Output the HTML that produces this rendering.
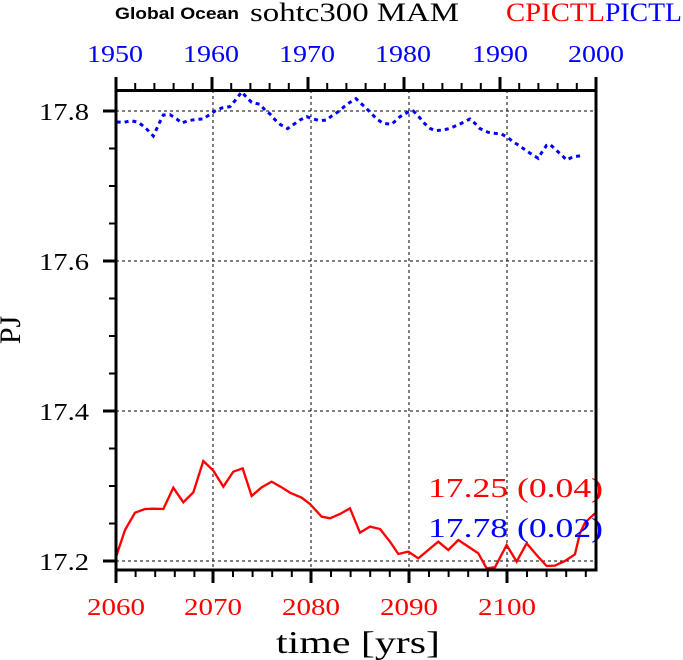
<!DOCTYPE html>
<html><head><meta charset="utf-8"><style>
html,body{margin:0;padding:0;background:#fff;}
svg{display:block;}
text{font-family:"Liberation Serif",serif;}
</style></head><body>
<svg width="683" height="660" viewBox="0 0 683 660" xmlns="http://www.w3.org/2000/svg">
<rect width="683" height="660" fill="#fff"/>
<text x="115" y="19" font-weight="bold" font-size="17" textLength="124" lengthAdjust="spacingAndGlyphs" style="font-family:'Liberation Sans',sans-serif">Global Ocean</text>
<text x="250" y="21" font-size="26" textLength="209" lengthAdjust="spacingAndGlyphs">sohtc300 MAM</text>
<text x="506" y="21" font-size="26" fill="#f00" textLength="99" lengthAdjust="spacingAndGlyphs">CPICTL</text>
<text x="605" y="21" font-size="26" fill="#00f" textLength="77" lengthAdjust="spacingAndGlyphs">PICTL</text>
<g stroke="#000" stroke-width="1" stroke-dasharray="3,3">
<line x1="213" y1="90" x2="213" y2="570"/><line x1="311" y1="90" x2="311" y2="570"/>
<line x1="409" y1="90" x2="409" y2="570"/><line x1="507" y1="90" x2="507" y2="570"/>
<line x1="116" y1="111" x2="596" y2="111"/><line x1="116" y1="261" x2="596" y2="261"/>
<line x1="116" y1="411" x2="596" y2="411"/><line x1="116" y1="561" x2="596" y2="561"/>
</g>
<g transform="translate(100,80) scale(0.3333)">
<polyline fill="none" stroke="#00f" stroke-width="9" stroke-dasharray="12,12" points="50,126 72,127 93,122 115,127 135,142 160,168 180,125 190,105 210,104 230,117 245,129 265,122 290,118 310,117 330,103 345,93 365,84 390,80 405,62 425,36 440,52 455,67 480,73 495,90 510,102 525,119 540,133 563,146 580,134 600,120 620,110 640,117 660,122 680,120 695,108 715,95 735,78 750,67 768,56 785,72 800,86 815,101 830,117 850,130 875,133 900,110 925,96 940,93 955,108 970,127 990,145 1005,152 1030,150 1050,145 1080,132 1110,117 1125,130 1140,146 1165,157 1185,160 1205,162 1225,174 1240,186 1260,198 1280,213 1300,226 1315,235 1325,218 1340,196 1350,193 1365,207 1385,225 1400,240 1420,230 1445,227"/>
</g>
<g transform="translate(100,450) scale(0.3333)">
<polyline fill="none" stroke="#f00" stroke-width="7" points="50,315 75,240 105,188 135,177 160,176 190,177 220,113 250,157 280,127 310,33 340,62 370,110 400,65 428,55 455,138 485,112 515,95 545,112 570,128 605,143 630,162 665,200 690,205 720,192 750,175 780,248 810,230 840,237 870,275 895,312 925,305 955,325 985,300 1015,275 1045,300 1075,270 1105,290 1135,310 1160,355 1185,352 1220,285 1250,335 1280,280 1310,315 1340,348 1365,347 1395,333 1425,313 1440,250 1455,218 1485,190"/>
</g>
<text x="428" y="497" font-size="27" fill="#f00" textLength="175" lengthAdjust="spacingAndGlyphs">17.25 (0.04)</text>
<text x="428" y="537" font-size="27" fill="#00f" textLength="175" lengthAdjust="spacingAndGlyphs">17.78 (0.02)</text>
<rect x="116" y="90.5" width="480" height="479.5" fill="none" stroke="#000" stroke-width="3"/>
<g stroke="#000" stroke-width="3">
<line x1="103" y1="111" x2="116" y2="111"/><line x1="103" y1="261" x2="116" y2="261"/>
<line x1="103" y1="411" x2="116" y2="411"/><line x1="103" y1="561" x2="116" y2="561"/>
</g>
<g stroke="#000" stroke-width="2">
<line x1="109" y1="148.5" x2="116" y2="148.5"/><line x1="109" y1="186" x2="116" y2="186"/><line x1="109" y1="223.5" x2="116" y2="223.5"/>
<line x1="109" y1="298.5" x2="116" y2="298.5"/><line x1="109" y1="336" x2="116" y2="336"/><line x1="109" y1="373.5" x2="116" y2="373.5"/>
<line x1="109" y1="448.5" x2="116" y2="448.5"/><line x1="109" y1="486" x2="116" y2="486"/><line x1="109" y1="523.5" x2="116" y2="523.5"/>
</g>
<g stroke="#000" stroke-width="3">
<line x1="116" y1="570" x2="116" y2="583"/><line x1="213" y1="570" x2="213" y2="583"/><line x1="311" y1="570" x2="311" y2="583"/><line x1="409" y1="570" x2="409" y2="583"/><line x1="507" y1="570" x2="507" y2="583"/>
</g>
<g stroke="#000" stroke-width="2">
<line x1="135.6" y1="570" x2="135.6" y2="577"/><line x1="155.2" y1="570" x2="155.2" y2="577"/><line x1="174.8" y1="570" x2="174.8" y2="577"/><line x1="194.4" y1="570" x2="194.4" y2="577"/>
<line x1="233" y1="570" x2="233" y2="577"/><line x1="252.6" y1="570" x2="252.6" y2="577"/><line x1="272.2" y1="570" x2="272.2" y2="577"/><line x1="291.8" y1="570" x2="291.8" y2="577"/>
<line x1="331" y1="570" x2="331" y2="577"/><line x1="350.6" y1="570" x2="350.6" y2="577"/><line x1="370.2" y1="570" x2="370.2" y2="577"/><line x1="389.8" y1="570" x2="389.8" y2="577"/>
<line x1="429" y1="570" x2="429" y2="577"/><line x1="448.6" y1="570" x2="448.6" y2="577"/><line x1="468.2" y1="570" x2="468.2" y2="577"/><line x1="487.8" y1="570" x2="487.8" y2="577"/>
<line x1="527" y1="570" x2="527" y2="577"/><line x1="546.6" y1="570" x2="546.6" y2="577"/><line x1="566.2" y1="570" x2="566.2" y2="577"/><line x1="585.8" y1="570" x2="585.8" y2="577"/>
</g>
<g stroke="#000" stroke-width="3">
<line x1="116" y1="90" x2="116" y2="77"/><line x1="212" y1="90" x2="212" y2="77"/><line x1="308" y1="90" x2="308" y2="77"/><line x1="404" y1="90" x2="404" y2="77"/><line x1="500" y1="90" x2="500" y2="77"/><line x1="596" y1="90" x2="596" y2="77"/>
</g>
<g stroke="#000" stroke-width="2">
<line x1="135.2" y1="90" x2="135.2" y2="83"/><line x1="154.4" y1="90" x2="154.4" y2="83"/><line x1="173.6" y1="90" x2="173.6" y2="83"/><line x1="192.8" y1="90" x2="192.8" y2="83"/>
<line x1="231.2" y1="90" x2="231.2" y2="83"/><line x1="250.4" y1="90" x2="250.4" y2="83"/><line x1="269.6" y1="90" x2="269.6" y2="83"/><line x1="288.8" y1="90" x2="288.8" y2="83"/>
<line x1="327.2" y1="90" x2="327.2" y2="83"/><line x1="346.4" y1="90" x2="346.4" y2="83"/><line x1="365.6" y1="90" x2="365.6" y2="83"/><line x1="384.8" y1="90" x2="384.8" y2="83"/>
<line x1="423.2" y1="90" x2="423.2" y2="83"/><line x1="442.4" y1="90" x2="442.4" y2="83"/><line x1="461.6" y1="90" x2="461.6" y2="83"/><line x1="480.8" y1="90" x2="480.8" y2="83"/>
<line x1="519.2" y1="90" x2="519.2" y2="83"/><line x1="538.4" y1="90" x2="538.4" y2="83"/><line x1="557.6" y1="90" x2="557.6" y2="83"/><line x1="576.8" y1="90" x2="576.8" y2="83"/>
</g>
<g font-size="24" fill="#00f">
<text x="87" y="62" textLength="56" lengthAdjust="spacingAndGlyphs">1950</text><text x="183" y="62" textLength="56" lengthAdjust="spacingAndGlyphs">1960</text><text x="279" y="62" textLength="56" lengthAdjust="spacingAndGlyphs">1970</text><text x="375" y="62" textLength="56" lengthAdjust="spacingAndGlyphs">1980</text><text x="472" y="62" textLength="56" lengthAdjust="spacingAndGlyphs">1990</text><text x="568" y="62" textLength="56" lengthAdjust="spacingAndGlyphs">2000</text>
</g>
<g font-size="24" fill="#f00">
<text x="87" y="615" textLength="58" lengthAdjust="spacingAndGlyphs">2060</text><text x="184" y="615" textLength="58" lengthAdjust="spacingAndGlyphs">2070</text><text x="282" y="615" textLength="58" lengthAdjust="spacingAndGlyphs">2080</text><text x="380" y="615" textLength="58" lengthAdjust="spacingAndGlyphs">2090</text><text x="478" y="615" textLength="58" lengthAdjust="spacingAndGlyphs">2100</text>
</g>
<g font-size="24">
<text x="39" y="120" textLength="50" lengthAdjust="spacingAndGlyphs">17.8</text><text x="39" y="270" textLength="50" lengthAdjust="spacingAndGlyphs">17.6</text><text x="39" y="420" textLength="50" lengthAdjust="spacingAndGlyphs">17.4</text><text x="39" y="570" textLength="50" lengthAdjust="spacingAndGlyphs">17.2</text>
</g>
<text x="358" y="653" font-size="32" text-anchor="middle" textLength="164" lengthAdjust="spacingAndGlyphs">time [yrs]</text>
<text transform="translate(20,330) rotate(-90)" font-size="30" text-anchor="middle">PJ</text>
</svg>
</body></html>
